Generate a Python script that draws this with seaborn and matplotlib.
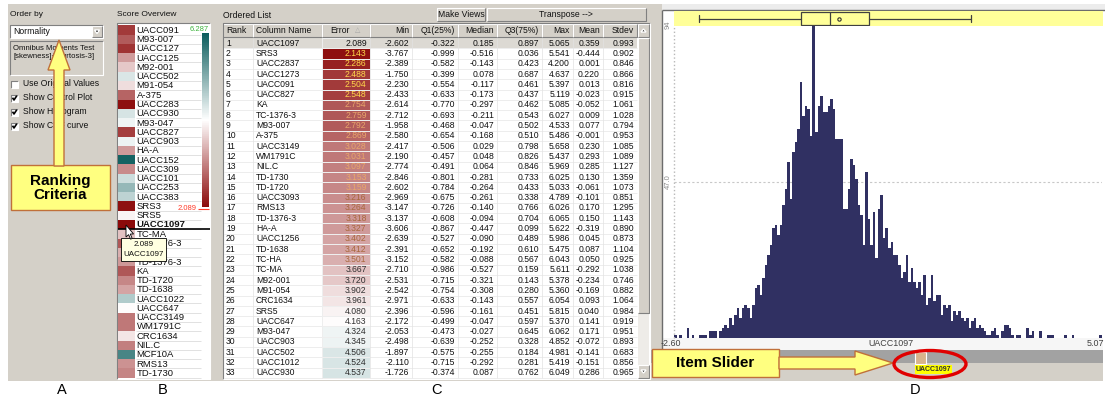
import numpy as np
import pandas as pd
import matplotlib
matplotlib.use('Agg')
import matplotlib.pyplot as plt
import seaborn as sns
from matplotlib.colors import LinearSegmentedColormap, Normalize
from matplotlib.patches import Rectangle, Polygon, Ellipse
from matplotlib.transforms import Bbox, TransformedBbox
import matplotlib.cm as cm

sns.set_theme(style='white')
plt.rcParams['font.family'] = ['Liberation Sans', 'DejaVu Sans']

# ---------------- data ----------------
names = ['UACC1097', 'SRS3', 'UACC2837', 'UACC1273', 'UACC091', 'UACC827', 'KA',
         'TC-1376-3', 'M93-007', 'A-375', 'UACC3149', 'WM1791C', 'NIL.C', 'TD-1730',
         'TD-1720', 'UACC3093', 'RMS13', 'TD-1376-3', 'HA-A', 'UACC1256', 'TD-1638',
         'TC-HA', 'TC-MA', 'M92-001', 'M91-054', 'CRC1634', 'SRS5', 'UACC647',
         'M93-047', 'UACC903', 'UACC502', 'UACC1012', 'UACC930']
error = [2.089, 2.143, 2.286, 2.488, 2.504, 2.548, 2.754, 2.759, 2.792, 2.869, 3.028,
         3.031, 3.097, 3.153, 3.159, 3.216, 3.264, 3.318, 3.327, 3.402, 3.412, 3.501,
         3.667, 3.720, 3.902, 3.961, 4.080, 4.163, 4.324, 4.345, 4.506, 4.524, 4.537]
mins = [-2.602, -3.767, -2.389, -1.750, -2.230, -2.433, -2.614, -2.712, -1.958, -2.580,
        -2.417, -2.190, -2.774, -2.846, -2.602, -2.969, -3.147, -3.137, -3.606, -2.639,
        -2.391, -3.152, -2.710, -2.531, -2.542, -2.971, -2.396, -2.172, -2.053, -2.498,
        -1.897, -2.110, -1.726]
q1s = [-0.322, -0.999, -0.582, -0.399, -0.554, -0.633, -0.770, -0.693, -0.468, -0.654,
       -0.506, -0.457, -0.491, -0.801, -0.784, -0.675, -0.726, -0.608, -0.867, -0.527,
       -0.652, -0.582, -0.986, -0.715, -0.754, -0.633, -0.596, -0.499, -0.473, -0.639,
       -0.575, -0.715, -0.374]
medians = [0.185, -0.516, -0.143, 0.078, -0.117, -0.173, -0.297, -0.211, -0.047, -0.168,
           0.029, 0.048, 0.064, -0.281, -0.264, -0.261, -0.140, -0.094, -0.447, -0.090,
           -0.192, -0.088, -0.527, -0.321, -0.308, -0.143, -0.161, -0.047, -0.027, -0.252,
           -0.255, -0.292, 0.087]
q3s = [0.897, 0.036, 0.423, 0.687, 0.461, 0.437, 0.462, 0.543, 0.502, 0.510, 0.798,
       0.826, 0.846, 0.733, 0.433, 0.338, 0.766, 0.704, 0.099, 0.489, 0.610, 0.567,
       0.159, 0.143, 0.280, 0.557, 0.451, 0.597, 0.645, 0.328, 0.184, 0.281, 0.762]
maxs = [5.065, 5.541, 4.200, 4.637, 5.397, 5.119, 5.085, 6.027, 4.533, 5.486, 5.658,
        5.437, 5.969, 6.025, 5.033, 4.789, 6.026, 6.065, 5.622, 5.986, 5.475, 6.043,
        5.611, 5.378, 5.360, 6.054, 5.815, 5.370, 6.062, 4.852, 4.981, 5.419, 6.049]
means = [0.359, -0.444, 0.001, 0.220, 0.013, -0.023, -0.052, 0.009, 0.077, -0.001,
         0.230, 0.293, 0.285, 0.130, -0.061, -0.101, 0.170, 0.150, -0.319, 0.045,
         0.087, 0.050, -0.292, -0.234, -0.169, 0.093, 0.040, 0.141, 0.171, -0.072,
         -0.141, -0.151, 0.286]
stdevs = [0.993, 0.902, 0.846, 0.866, 0.816, 0.915, 1.061, 1.028, 0.794, 0.953, 1.085,
          1.089, 1.127, 1.359, 1.073, 0.851, 1.295, 1.143, 0.890, 0.873, 1.104, 0.925,
          1.038, 0.746, 0.882, 1.064, 0.984, 0.919, 0.951, 0.893, 0.683, 0.856, 0.965]
headers = ['Rank', 'Column Name', 'Error', 'Min', 'Q1(25%)', 'Median', 'Q3(75%)',
           'Max', 'Mean', 'Stdev']

overview_names = ['UACC091', 'M93-007', 'UACC127', 'UACC125', 'M92-001', 'UACC502',
                  'M91-054', 'A-375', 'UACC283', 'UACC930', 'M93-047', 'UACC827',
                  'UACC903', 'HA-A', 'UACC152', 'UACC309', 'UACC101', 'UACC253',
                  'UACC383', 'SRS3', 'SRS5', 'UACC1097', 'TC-MA', 'TC-1376-3', 'TC-HA',
                  'TD-1376-3', 'KA', 'TD-1720', 'TD-1638', 'UACC1022', 'UACC647',
                  'UACC3149', 'WM1791C', 'CRC1634', 'NIL.C', 'MCF10A', 'RMS13', 'TD-1730']
overview_scores = [2.504, 2.792, 2.45, 3.35, 3.720, 4.506, 3.902, 2.869, 2.15, 4.537,
                   4.324, 2.548, 4.345, 3.327, 6.20, 3.20, 4.62, 5.10, 4.75, 2.143,
                   4.080, 2.089, 3.667, 2.759, 3.501, 3.318, 2.754, 3.159, 3.412, 4.85,
                   4.163, 3.028, 3.031, 3.961, 3.097, 5.75, 3.264, 3.153]
score_lo, score_hi = 2.089, 6.287

# histogram of UACC1097 (170 bins between its min and max)
hist_counts = [1, 0, 1, 0, 0, 3, 0, 1, 0, 0, 1,
               1, 1, 0, 2, 2, 2, 0, 2, 3, 4,
               3, 6, 4, 7, 9, 6, 9, 10, 9, 6, 10, 15,
               16, 13, 18, 22, 25, 28, 33, 34, 31, 34, 40, 45,
               53, 42, 56, 59, 63, 77, 67, 70, 69, 61, 94, 62,
               70, 73, 68, 68, 70, 72, 69, 60, 60, 60, 39, 39,
               45, 54, 52, 48, 40, 37, 28, 50, 36, 28, 38, 24,
               39, 43, 30, 33, 27, 29, 25, 25, 22, 18, 20, 25,
               17, 21, 17, 15, 17, 13, 19, 10, 12, 19, 11, 13,
               13, 7, 10, 9, 10, 5, 8, 7, 8, 6, 5, 6,
               3, 5, 6, 3, 4, 3, 2, 1, 1, 2, 3, 1,
               0, 2, 4, 4, 3, 1, 0, 1, 1, 0, 0, 3,
               1, 2, 0, 0, 2, 0, 0, 1, 1, 1, 0, 0,
               0, 0, 1, 0, 0, 1, 0, 0, 0, 0, 0, 0,
               0, 0, 0, 0, 1]

# ---------------- figure in pixel coordinates ----------------
W, H = 1105, 398
GRAY = '#d4d0c8'
NAVY = '#303062'
score_cmap = LinearSegmentedColormap.from_list('score', ['#8b0a0a', '#ffffff', '#0b5c5c'])
score_norm = Normalize(score_lo, score_hi)

fig = plt.figure(figsize=(W / 100, H / 100), dpi=100)
fig.patch.set_facecolor('white')


def pax(x0, y0, x1, y1):
    return fig.add_axes([x0 / W, 1 - y1 / H, (x1 - x0) / W, (y1 - y0) / H])


def canvas(z=0):
    a = pax(0, 0, W, H)
    a.set_xlim(0, W)
    a.set_ylim(H, 0)
    a.axis('off')
    a.set_zorder(z)
    a.patch.set_alpha(0)
    return a


ax0 = canvas(0)


def rect(x0, y0, x1, y1, fc, ec='none', lw=0.8, z=1, ax=None):
    (ax or ax0).add_patch(Rectangle((x0, y0), x1 - x0, y1 - y0, facecolor=fc,
                                    edgecolor=ec, linewidth=lw, zorder=z))


def line(xs, ys, c, lw=0.8, z=2, ax=None, **kw):
    (ax or ax0).plot(xs, ys, color=c, lw=lw, zorder=z, solid_capstyle='butt', **kw)


def sunken(x0, y0, x1, y1, z=3):
    line([x0, x0, x1], [y1, y0, y0], '#808080', z=z)
    line([x0, x1, x1], [y1, y1, y0], '#ffffff', z=z)


def raised(x0, y0, x1, y1, z=2):
    rect(x0, y0, x1, y1, GRAY, z=z)
    line([x0, x0, x1], [y1, y0, y0], '#ffffff', z=z + 0.1)
    line([x0, x1, x1], [y1, y1, y0], '#808080', z=z + 0.1)


def txt(x, y, s, size=6.2, ha='left', va='center', color='#111111', ax=None, **kw):
    return (ax or ax0).text(x, y, s, fontsize=size, ha=ha, va=va, color=color, **kw)


# window background
rect(8, 4, 1103, 381, GRAY, z=0)

# ---------------- panel A ----------------
txt(10, 15, 'Order by', 6)
rect(10, 25, 103, 38, 'white', z=1)
sunken(10, 25, 103, 38)
txt(13, 31.5, 'Normality', 6.2)
raised(92, 26, 102, 37, z=2)
ax0.add_patch(Polygon([(94.5, 30), (99.5, 30), (97, 33.5)], closed=True, fc='black', zorder=4))
sunken(10, 41, 103, 75)
txt(13, 45, 'Omnibus Moments Test\n[skewness]+[kurtosis-3]', 5.6, va='top', linespacing=1.15)
checks = [('Use Original Values', False), ('Show Control Plot', True),
          ('Show Histogram', True), ('Show CDF curve', True)]
for i, (lab, on) in enumerate(checks):
    yc = 84 + 14 * i
    rect(11, yc - 3.5, 18, yc + 3.5, 'white', z=1)
    sunken(11, yc - 3.5, 18, yc + 3.5)
    if on:
        line([12.5, 14, 16.8], [yc - 0.3, yc + 2, yc - 2.3], 'black', lw=1.2, z=4)
    txt(23, yc, lab, 6.2)

# ---------------- panel B ----------------
txt(117, 14, 'Score Overview', 6)
rect(117, 23, 210, 379, 'white', z=1)
sunken(117, 23, 210, 379)
row_h_b = 9.27
tip_box = (121, 238, 166, 261)
# names hidden behind the tooltip only show right of it
right_of_tip = TransformedBbox(Bbox([[tip_box[2], 0], [W, H]]), ax0.transData)
for k, nm in enumerate(overview_names):
    yc = 30 + row_h_b * k
    line([136, 201], [yc + row_h_b / 2, yc + row_h_b / 2], '#dcdcdc', lw=0.6, z=2)
    t = txt(136.5, yc + 0.3, nm, 6.8, weight='bold' if nm == 'UACC1097' else 'normal')
    if tip_box[1] - 2 < yc < tip_box[3] - 2:
        t.set_clip_on(True)
        t.set_clip_box(right_of_tip)

ax_sw = pax(118, 30 - row_h_b / 2, 135, 30 - row_h_b / 2 + row_h_b * len(overview_names))
sns.heatmap(pd.DataFrame({'score': overview_scores}, index=overview_names), ax=ax_sw,
            cmap=score_cmap, vmin=score_lo, vmax=score_hi, cbar=False,
            xticklabels=False, yticklabels=False)
ax_sw.set_xlabel('')
ax_sw.set_ylabel('')

ax_cb = pax(202, 33, 209, 207)
cbar = fig.colorbar(cm.ScalarMappable(norm=score_norm, cmap=score_cmap), cax=ax_cb)
cbar.set_ticks([])
cbar.outline.set_visible(False)

sel_y = 30 + row_h_b * overview_names.index('UACC1097')

# ---------------- panel C ----------------
txt(223, 15, 'Ordered List', 6.2)
raised(437, 8, 485, 21)
txt(461, 14.5, 'Make Views', 6.2, ha='center')
raised(487, 8, 646, 21)
txt(566, 14.5, 'Transpose -->', 6.2, ha='center')

col_x = [223, 253, 322, 370, 412, 458, 497, 542, 573, 603, 637]
rect(223, 23, 650, 379, 'white', z=1)
sunken(223, 23, 650, 379)
for j, hd in enumerate(headers):
    raised(col_x[j], 24, col_x[j + 1], 37, z=2)
    if j < 2:
        txt(col_x[j] + 3.5, 30.5, hd, 6.2)
    elif j == 2:
        txt(330, 30.5, hd, 6.2)
        txt(358, 30.5, '\u25b3', 5, color='#a8a8a8', ha='center')
    else:
        txt(col_x[j + 1] - 3, 30.5, hd, 6.2, ha='right')

row_h = (378 - 38) / len(names)
rect(224, 38, 637, 38 + row_h, '#dcd9d3', z=1.5)
for i in range(len(names)):
    yb = 38 + row_h * (i + 1)
    line([224, 637], [yb, yb], '#e6e6e6', lw=0.5, z=1.6)
for xv in col_x[1:-1]:
    line([xv, xv], [38, 378], '#e2e2e2', lw=0.5, z=1.6)

table_cols = [mins, q1s, medians, q3s, maxs, means, stdevs]
for i, nm in enumerate(names):
    yc = 38 + row_h * (i + 0.5)
    txt(226, yc, str(i + 1), 6.2)
    txt(256, yc, nm, 6.2)
    for j, vals in enumerate(table_cols):
        txt(col_x[j + 4] - 3, yc, f'{vals[i]:.3f}', 6.2, ha='right')
txt(col_x[3] - 3, 38 + row_h * 0.5, f'{error[0]:.3f}', 6.2, ha='right')

ax_err = pax(322, 38, 370, 378)
err_mask = np.zeros((len(names), 1), dtype=bool)
err_mask[0, 0] = True
sns.heatmap(pd.DataFrame({'Error': error}, index=names), ax=ax_err, mask=err_mask,
            cmap=score_cmap, vmin=score_lo, vmax=score_hi, cbar=False, annot=True,
            fmt='.3f', annot_kws={'fontsize': 6.2}, linewidths=0.4, linecolor='#eeeeee',
            xticklabels=False, yticklabels=False)
ax_err.set_facecolor('none')
ax_err.patch.set_alpha(0)
ax_err.set_xlabel('')
ax_err.set_ylabel('')
for t in ax_err.texts:
    v = float(t.get_text())
    t.set_horizontalalignment('right')
    t.set_x(0.93)
    if v < 2.6:
        t.set_color('#ffd84a')
    elif v < 3.2:
        t.set_color('#e8a66a')
    elif v < 3.6:
        t.set_color('#a8683e')
    else:
        t.set_color('#303030')

# scrollbar
rect(638, 24, 649, 378, '#eeece8', z=2)
raised(638, 24, 649, 37, z=2.2)
ax0.add_patch(Polygon([(641, 32), (646, 32), (643.5, 29)], closed=True, fc='black', zorder=3))
raised(638, 38, 649, 313, z=2.2)
raised(638, 365, 649, 378, z=2.2)
ax0.add_patch(Polygon([(641, 370), (646, 370), (643.5, 373)], closed=True, fc='black', zorder=3))

# ---------------- panel D ----------------
rect(662, 4, 1105, 10, '#ececec', z=0.5)
rect(662, 10, 1103, 350, 'white', z=0.6)
rect(662, 338, 1103, 350, '#f6f6f6', z=0.7)
line([662, 1105], [10, 10], '#6c6c6c', lw=1, z=2)
line([662, 662], [10, 350], '#6c6c6c', lw=1, z=2)
rect(650, 350, 1103, 363, '#a2a2a2', z=1)

hist_lo, hist_hi = mins[0], maxs[0]
bin_w = (hist_hi - hist_lo) / len(hist_counts)
hist_df = pd.DataFrame({'value': [hist_lo + bin_w * (i + 0.5) for i in range(len(hist_counts))],
                        'count': hist_counts})

ax_h = pax(674, 26, 1102, 338)
sns.histplot(data=hist_df, x='value', weights='count', bins=len(hist_counts),
             binrange=(hist_lo, hist_hi), element='step', fill=True, color=NAVY,
             alpha=1, linewidth=0, ax=ax_h)
ax_h.set_xlim(hist_lo, hist_hi)
ax_h.set_ylim(0, 94)
ax_h.axhline(47, color='#c8c8c8', lw=0.8, ls=(0, (2, 2)), zorder=0)
ax_h.set_xticks([])
ax_h.set_yticks([])
ax_h.set_xlabel('')
ax_h.set_ylabel('')
ax_h.set_facecolor('none')
for s in ax_h.spines.values():
    s.set_visible(False)
ax_h.axvline(hist_lo, color='#b8b8b8', lw=1, ls=':', clip_on=False)

ax_b = pax(674, 11, 1103, 26)
ax_b.set_facecolor('#ffff99')
iqr = q3s[0] - q1s[0]
box_stats = [{'med': medians[0], 'q1': q1s[0], 'q3': q3s[0], 'mean': means[0],
              'whislo': max(mins[0], q1s[0] - 1.5 * iqr),
              'whishi': min(maxs[0], q3s[0] + 1.5 * iqr), 'fliers': []}]
ax_b.bxp(box_stats, orientation='horizontal', widths=0.85, patch_artist=True,
         showmeans=True, capwidths=0.5,
         boxprops=dict(facecolor='#ffff99', edgecolor='#404040', lw=0.9),
         whiskerprops=dict(color='#404040', lw=0.9), capprops=dict(color='#404040', lw=0.9),
         medianprops=dict(color='#404040', lw=0.9),
         meanprops=dict(marker='o', markersize=2.4, markerfacecolor='none',
                        markeredgecolor='#303030', markeredgewidth=0.8))
ax_b.set_xlim(hist_lo, hist_hi + (hist_hi - hist_lo) / 428)
ax_b.set_ylim(0.5, 1.5)
ax_b.set_xticks([])
ax_b.set_yticks([])
for s in ax_b.spines.values():
    s.set_visible(False)

txt(668.5, 25, '94', 5.5, ha='center', color='#8a8a8a', rotation=90)
txt(668.5, 182, '47.0', 5.5, ha='center', color='#8a8a8a', rotation=90)
txt(661, 344, f'{hist_lo:.2f}', 6.4, color='#404040')
txt(891, 344, names[0], 6.4, ha='center', color='#404040')
txt(1104, 344, f'{hist_hi:.2f}', 6.4, ha='right', color='#404040')

# panel letters
for lab, xl in [('A', 62), ('B', 163), ('C', 437), ('D', 915)]:
    txt(xl, 390, lab, 10.5, ha='center', color='black')

# ---------------- overlay: callouts, tooltip, slider ----------------
ax_t = canvas(10)
CALL_FC, CALL_EC = '#ffff80', '#c0703a'

# colorbar labels and selection line in B
txt(209, 29.5, f'{score_hi:.3f}', 5.5, ha='right', color='#3cb43c', ax=ax_t)
txt(197, 209, f'{score_lo:.3f}', 5.5, ha='right', color='#ff3b2a', ax=ax_t)
line([197.5, 209], [209, 209], '#ff3b2a', lw=0.8, ax=ax_t)
line([118, 210], [sel_y + 4.3, sel_y + 4.3], 'black', lw=1.2, ax=ax_t)

# tooltip
rect(*tip_box, '#ffffe1', ec='black', lw=0.6, ax=ax_t, z=3)
txt(143.5, 244, f'{error[0]:.3f}', 5.8, ha='center', ax=ax_t, zorder=4)
txt(143.5, 254.5, names[0], 5.8, ha='center', ax=ax_t, zorder=4)
ax_t.add_patch(Polygon([(126, 225), (126, 237), (128.6, 234.6), (130.6, 239.2),
                        (132.2, 238.5), (130.3, 234), (133.6, 234)], closed=True,
                       fc='white', ec='black', lw=0.6, zorder=5))

# ranking criteria callout
rect(11, 165, 110, 210, CALL_FC, ec=CALL_EC, lw=1, ax=ax_t, z=3)
ax_t.add_patch(Polygon([(59, 40), (70, 70), (64, 70), (64, 166), (54, 166), (54, 70), (48, 70)],
                       closed=True, fc=CALL_FC, ec=CALL_EC, lw=1, zorder=4))
txt(60, 188, 'Ranking\nCriteria', 11, ha='center', weight='bold', color='black',
    linespacing=1.05, ax=ax_t, zorder=5)

# item slider
rect(915, 352, 926, 364, '#d8b48c', ec='white', lw=0.8, ax=ax_t, z=3)
ax_t.text(933.5, 369.5, names[0], fontsize=5, weight='bold', ha='center', va='center',
          color='#303030', zorder=4,
          bbox=dict(boxstyle='square,pad=0.1', fc='#ffff00', ec='none'))
ax_t.add_patch(Ellipse((930, 364), 72, 27, fc='none', ec='#e00000', lw=2.4, zorder=5))
rect(652, 349, 779, 377, CALL_FC, ec=CALL_EC, lw=1, ax=ax_t, z=3)
ax_t.add_patch(Polygon([(779, 357), (855, 357), (855, 351), (893, 363), (855, 375),
                        (855, 369), (779, 369)], closed=True, fc=CALL_FC, ec=CALL_EC,
                       lw=1, zorder=4))
txt(715, 363, 'Item Slider', 11, ha='center', weight='bold', color='black', ax=ax_t,
    zorder=5)

fig.savefig('out.png', dpi=100)
